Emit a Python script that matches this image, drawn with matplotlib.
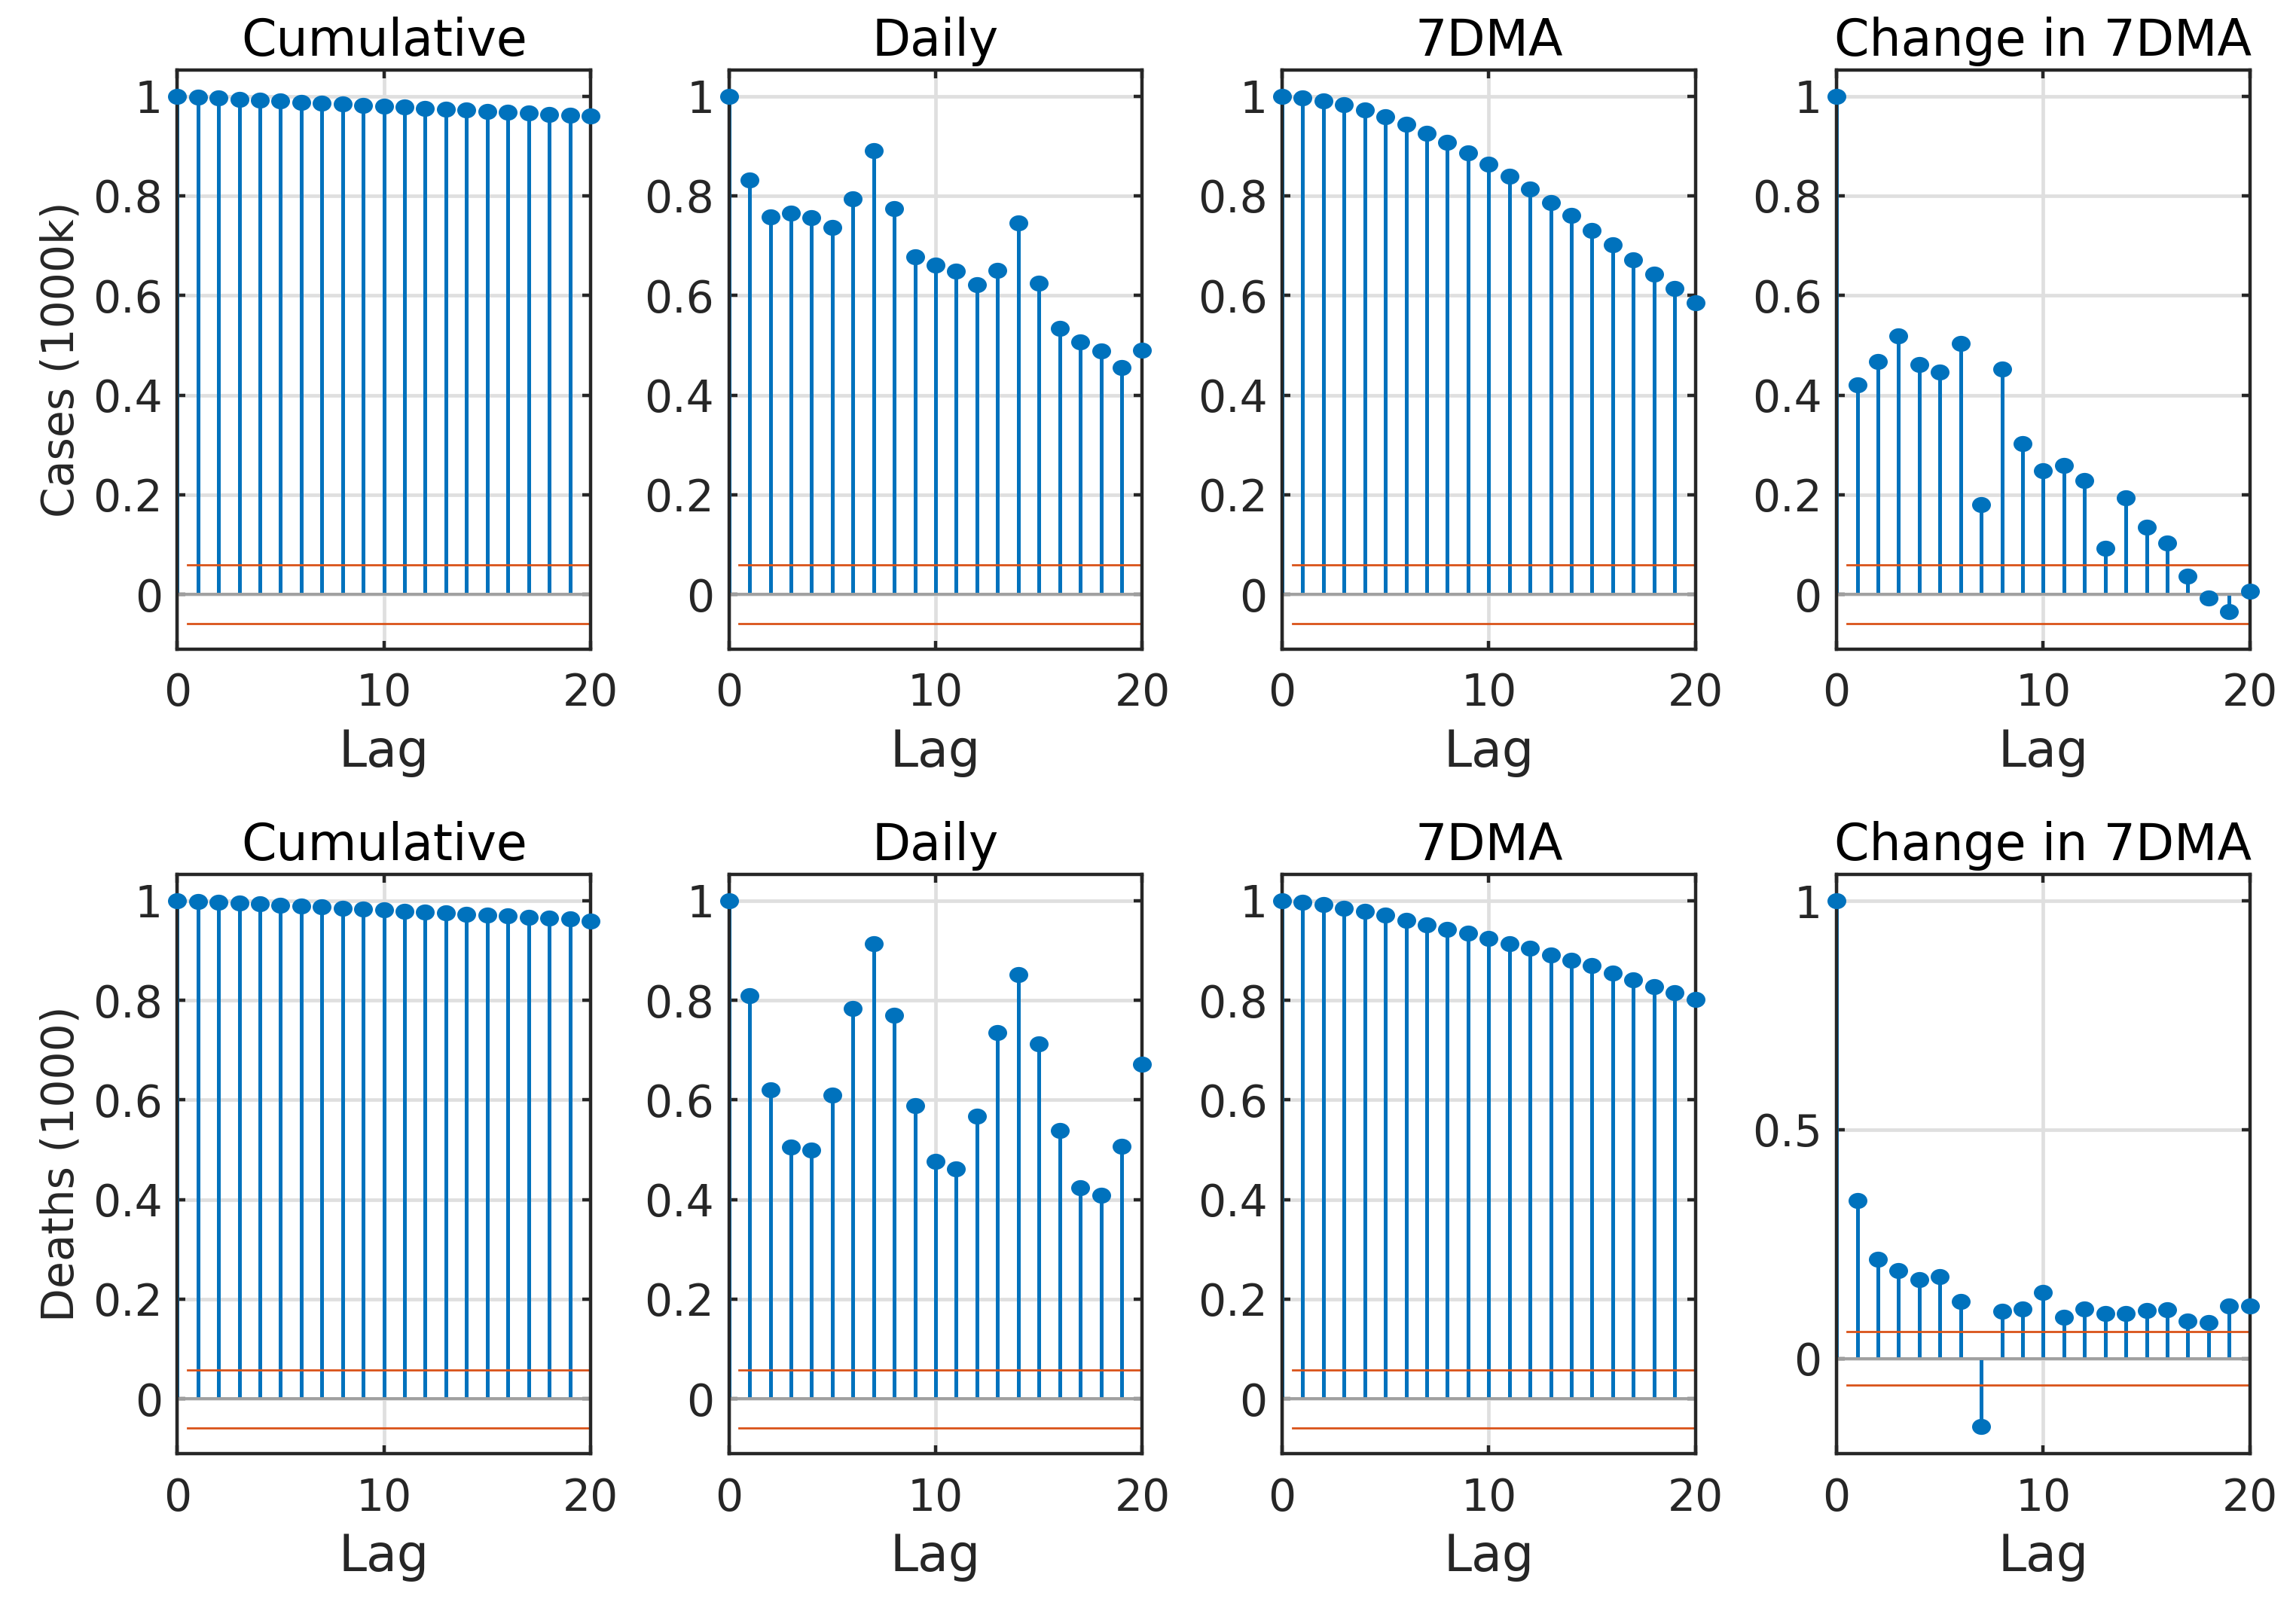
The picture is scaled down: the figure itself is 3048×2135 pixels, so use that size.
import matplotlib
matplotlib.use('Agg')
import matplotlib.pyplot as plt
from matplotlib.ticker import FuncFormatter
from matplotlib.path import Path
from matplotlib.transforms import Affine2D

plt.rcParams['font.family'] = ['DejaVu Sans']

# autocorrelation values, lags 0..20
lags = list(range(21))
titles = ['Cumulative', 'Daily', '7DMA', 'Change in 7DMA']
row_labels = ['Cases (1000k)', 'Deaths (1000)']

cases_cum = [1.000, 0.998, 0.996, 0.994, 0.992, 0.990, 0.988, 0.986, 0.984, 0.982, 0.980,
             0.978, 0.976, 0.974, 0.972, 0.970, 0.968, 0.966, 0.964, 0.962, 0.960]
cases_daily = [1.000, 0.832, 0.758, 0.765, 0.756, 0.736, 0.794, 0.891, 0.775, 0.677, 0.661,
               0.649, 0.621, 0.651, 0.746, 0.624, 0.534, 0.507, 0.488, 0.456, 0.490]
cases_7dma = [1.000, 0.996, 0.991, 0.983, 0.973, 0.959, 0.944, 0.926, 0.908, 0.886, 0.863,
              0.840, 0.813, 0.787, 0.760, 0.731, 0.702, 0.672, 0.643, 0.614, 0.585]
cases_chg = [1.000, 0.421, 0.467, 0.519, 0.462, 0.446, 0.504, 0.180, 0.453, 0.302, 0.248,
             0.258, 0.228, 0.092, 0.193, 0.135, 0.103, 0.037, -0.007, -0.035, 0.006]

deaths_cum = [1.000, 0.998, 0.996, 0.995, 0.993, 0.991, 0.989, 0.987, 0.985, 0.983, 0.981,
              0.979, 0.977, 0.975, 0.973, 0.971, 0.969, 0.967, 0.965, 0.963, 0.959]
deaths_daily = [1.000, 0.809, 0.620, 0.506, 0.500, 0.610, 0.783, 0.914, 0.770, 0.588, 0.477,
                0.461, 0.567, 0.735, 0.851, 0.713, 0.538, 0.423, 0.408, 0.507, 0.671]
deaths_7dma = [1.000, 0.997, 0.992, 0.985, 0.978, 0.971, 0.961, 0.952, 0.943, 0.934, 0.924,
               0.914, 0.904, 0.891, 0.880, 0.869, 0.855, 0.841, 0.828, 0.815, 0.801]
deaths_chg = [1.000, 0.345, 0.217, 0.192, 0.173, 0.179, 0.124, -0.149, 0.103, 0.108, 0.144,
              0.090, 0.108, 0.099, 0.098, 0.105, 0.107, 0.082, 0.078, 0.115, 0.115]

bound = 0.0585

data = [[cases_cum, cases_daily, cases_7dma, cases_chg],
        [deaths_cum, deaths_daily, deaths_7dma, deaths_chg]]

blue = '#0072BD'
orange = '#D95319'
dark = '#262626'

# the original figure was stretched sideways, so the dots are slightly wide ellipses
circ = Path.unit_circle()
ellipse = Path(Affine2D().scale(1.0, 0.85).transform(circ.vertices), circ.codes)

fig = plt.figure(figsize=(15.24, 10.675), dpi=200)

lefts = [0.0772, 0.3175, 0.5584, 0.7999]
bottoms = [0.5963, 0.096]
w = 0.180
h = 0.360

for r in range(2):
    for c in range(4):
        vals = data[r][c]
        ax = fig.add_axes([lefts[c], bottoms[r], w, h])
        ax.set_axisbelow(True)
        ax.grid(True, color='#DFDFDF', lw=1.7)
        ml, sl, bl = ax.stem(lags, vals, linefmt='-', markerfmt='o', basefmt='-')
        plt.setp(sl, color=blue, lw=1.8)
        plt.setp(ml, color=blue, marker=ellipse, markersize=9, markeredgewidth=0,
                 clip_on=False, zorder=4)
        plt.setp(bl, color='#A0A0A0', lw=1.4)
        ax.plot([0.5, 20], [bound, bound], color=orange, lw=1.0)
        ax.plot([0.5, 20], [-bound, -bound], color=orange, lw=1.0)

        ax.set_xlim(0, 20)
        ax.set_xticks([0, 10, 20])
        if r == 1 and c == 3:
            ax.set_ylim(-0.208, 1.057)
            ax.set_yticks([0, 0.5, 1])
        else:
            ax.set_ylim(-0.11, 1.052)
            ax.set_yticks([0, 0.2, 0.4, 0.6, 0.8, 1])
        ax.yaxis.set_major_formatter(FuncFormatter(lambda v, p: '%g' % v))

        ax.tick_params(direction='in', length=4, width=1.6, top=True, right=True,
                       labelsize=21, colors=dark)
        ax.tick_params(axis='x', pad=11)
        ax.tick_params(axis='y', pad=7)
        for s in ax.spines.values():
            s.set_linewidth(1.6)
            s.set_color(dark)

        ax.set_title(titles[c], fontsize=24, pad=7)
        ax.set_xlabel('Lag', fontsize=24, color=dark, labelpad=6)
        if c == 0:
            ax.set_ylabel(row_labels[r], fontsize=21, color=dark, labelpad=5)

fig.savefig('out.png', dpi=200)
